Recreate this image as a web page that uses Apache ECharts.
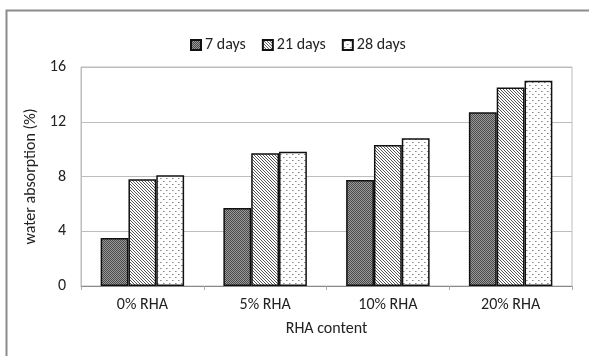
<!DOCTYPE html>
<html><head><meta charset="utf-8">
<script src="https://cdn.jsdelivr.net/npm/echarts@6/dist/echarts.min.js"></script>
<style>html,body{margin:0;padding:0;background:#fff}#c{width:589px;height:356px}</style>
</head><body><div id="c"></div>
<script>
const categories = ['0% RHA', '5% RHA', '10% RHA', '20% RHA'];
const seriesNames = ['7 days', '21 days', '28 days'];
const days7 = [3.5, 5.7, 7.75, 12.7];
const days21 = [7.8, 9.7, 10.3, 14.5];
const days28 = [8.1, 9.8, 10.8, 15.0];
const yTicks = [0, 4, 8, 12, 16];

function makePattern(kind) {
  const c = document.createElement('canvas');
  const ctx = c.getContext('2d');
  if (kind === 0) {
    c.width = 2; c.height = 2;
    ctx.fillStyle = '#9a9a9a'; ctx.fillRect(0, 0, 2, 2);
    ctx.fillStyle = '#4a4a4a'; ctx.fillRect(0, 0, 1, 1); ctx.fillRect(1, 1, 1, 1);
  } else if (kind === 1) {
    c.width = 3; c.height = 3;
    ctx.fillStyle = '#ffffff'; ctx.fillRect(0, 0, 3, 3);
    ctx.fillStyle = '#555555';
    for (let i = 0; i < 3; i++) ctx.fillRect(i, i, 1, 1);
  } else {
    c.width = 6; c.height = 6;
    ctx.fillStyle = '#ffffff'; ctx.fillRect(0, 0, 6, 6);
    ctx.fillStyle = '#8a8a8a';
    ctx.fillRect(1, 1, 1, 1); ctx.fillRect(4, 4, 1, 1);
    ctx.fillStyle = '#bbbbbb';
    ctx.fillRect(2, 1, 1, 1); ctx.fillRect(5, 4, 1, 1);
  }
  return { image: c, repeat: 'repeat' };
}

const chart = echarts.init(document.getElementById('c'), null, { renderer: 'canvas' });
const font = 'Carlito, Lato, sans-serif';
const data = [days7, days21, days28];
chart.setOption({
  animation: false,
  backgroundColor: '#fff',
  graphic: [{
    type: 'rect', shape: { x: 6.5, y: 10.5, width: 700, height: 500 },
    style: { fill: 'none', stroke: '#8c8c8c', lineWidth: 2 }, silent: true, z: -10
  }],
  legend: {
    top: 32, left: 185, itemWidth: 10, itemHeight: 10, itemGap: 16, icon: 'rect',
    textStyle: { fontFamily: font, fontSize: 16, color: '#222', padding: [0, 0, 0, -1] },
    data: seriesNames
  },
  grid: { left: 81, right: 17, top: 67, bottom: 70, containLabel: false, show: true, borderColor: '#bdbdbd', borderWidth: 1 },
  xAxis: {
    type: 'category', data: categories,
    name: 'RHA content', nameLocation: 'middle', nameGap: 35,
    nameTextStyle: { fontFamily: font, fontSize: 16, color: '#222' },
    axisLine: { lineStyle: { color: '#8a8a8a', width: 1 } },
    axisTick: { show: true, length: 4, lineStyle: { color: '#aaa' } },
    axisLabel: { fontFamily: font, fontSize: 16, color: '#222', margin: 11 }
  },
  yAxis: {
    type: 'value', min: yTicks[0], max: yTicks[yTicks.length - 1], interval: 4,
    name: 'water absorption (%)', nameLocation: 'middle', nameGap: 40,
    nameTextStyle: { fontFamily: font, fontSize: 16, color: '#222' },
    axisLine: { show: true, lineStyle: { color: '#bdbdbd' } },
    axisTick: { show: false },
    splitLine: { lineStyle: { color: '#bdbdbd', width: 1 } },
    axisLabel: { fontFamily: font, fontSize: 16, color: '#222', margin: 15 }
  },
  series: data.map((d, i) => ({
    name: seriesNames[i], type: 'bar', data: d,
    barGap: '0%', barCategoryGap: '32%',
    itemStyle: { color: makePattern(i), borderColor: '#111', borderWidth: 1.5 }
  }))
});
</script></body></html>
